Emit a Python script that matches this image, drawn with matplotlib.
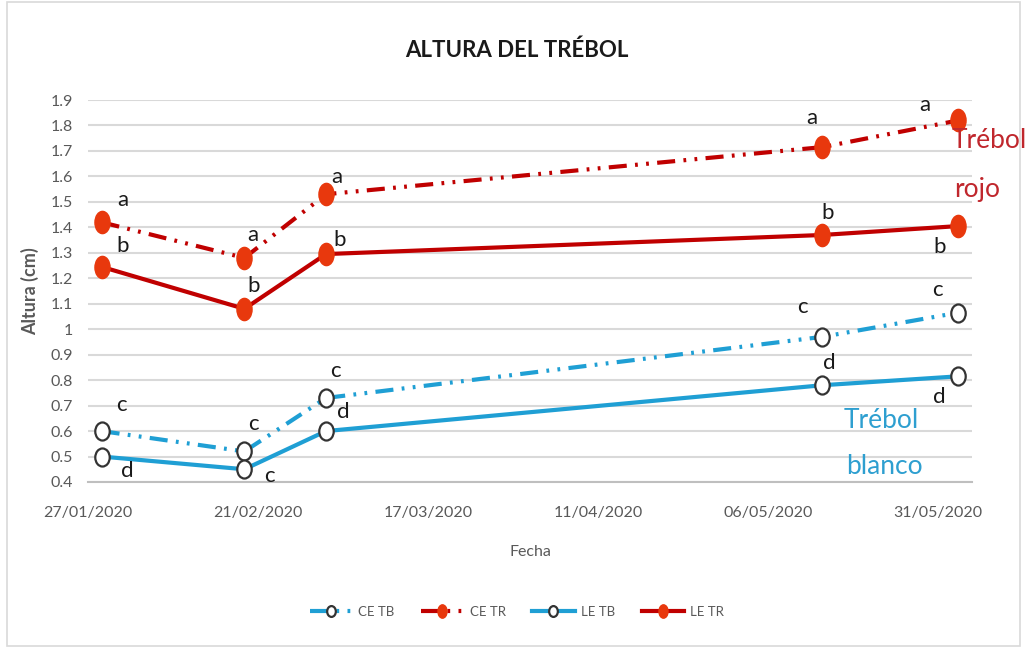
import datetime as dt
import numpy as np
import matplotlib
matplotlib.use("Agg")
import matplotlib.pyplot as plt
import matplotlib.dates as mdates
from matplotlib.path import Path
from matplotlib.ticker import FuncFormatter, MultipleLocator
from matplotlib.patches import Rectangle

plt.rcParams['font.family'] = ['Lato', 'DejaVu Sans']
plt.rcParams['lines.scale_dashes'] = False

# sampling dates
fechas = [dt.date(2020, 1, 29), dt.date(2020, 2, 19), dt.date(2020, 3, 2),
          dt.date(2020, 5, 14), dt.date(2020, 6, 3)]

# heights (cm)
ce_tb = [0.60, 0.52, 0.73, 0.97, 1.065]
ce_tr = [1.42, 1.28, 1.53, 1.715, 1.82]
le_tb = [0.50, 0.45, 0.60, 0.78, 0.815]
le_tr = [1.245, 1.08, 1.295, 1.37, 1.405]

# significance letters
let_ce_tb = ['c', 'c', 'c', 'c', 'c']
let_ce_tr = ['a', 'a', 'a', 'a', 'a']
let_le_tb = ['d', 'c', 'd', 'd', 'd']
let_le_tr = ['b', 'b', 'b', 'b', 'b']

# letter offsets in pixels (dx, dy up)
off_ce_tb = [(20, 26), (9, 27), (9, 27), (-20, 30), (-21, 23)]
off_ce_tr = [(21, 22), (8, 23), (11, 17), (-11, 29), (-34, 15)]
off_le_tb = [(26, -14), (25, -7), (17, 19), (7, 22), (-19, -21)]
off_le_tr = [(21, 21), (9, 23), (14, 14), (5, 22), (-19, -21)]

red_line = '#c00000'
red_mark = '#e8380d'
blue_line = '#1f9fd4'
gray_txt = '#595959'

circ = Path.unit_circle()
ell_red = Path(circ.vertices * [0.68, 1.0], circ.codes)
ell_blue = Path(circ.vertices * [0.8, 1.0], circ.codes)

dash_dot_dot = (0, (13, 6, 2, 6, 2, 6))

fig = plt.figure(figsize=(10.27, 6.48), dpi=100)
ax = fig.add_axes([88 / 1027, 1 - 482 / 648, (972 - 88) / 1027, (482 - 100) / 648])

x = mdates.date2num(fechas)

ax.plot(x, ce_tb, color=blue_line, lw=3, ls=dash_dot_dot, marker=ell_blue, ms=13,
        mfc='white', mec='#333333', mew=1.6, label='CE TB', zorder=3)
ax.plot(x, ce_tr, color=red_line, lw=3, ls=dash_dot_dot, marker=ell_red, ms=16,
        mfc=red_mark, mec=red_mark, label='CE TR', zorder=3)
ax.plot(x, le_tb, color=blue_line, lw=3, marker=ell_blue, ms=13,
        mfc='white', mec='#333333', mew=1.6, label='LE TB', zorder=3)
ax.plot(x, le_tr, color=red_line, lw=3, marker=ell_red, ms=16,
        mfc=red_mark, mec=red_mark, label='LE TR', zorder=3)

for ys, lets, offs in [(ce_tb, let_ce_tb, off_ce_tb), (ce_tr, let_ce_tr, off_ce_tr),
                       (le_tb, let_le_tb, off_le_tb), (le_tr, let_le_tr, off_le_tr)]:
    for xi, yi, l, (dx, dy) in zip(x, ys, lets, offs):
        ax.annotate(l, (xi, yi), xytext=(dx * 0.72, dy * 0.72), textcoords='offset points',
                    ha='center', va='center', fontsize=16, color='#1a1a1a', zorder=4)

x0 = mdates.date2num(dt.date(2020, 1, 27))
ax.set_xlim(x0, mdates.date2num(dt.date(2020, 6, 5)))
ax.set_ylim(0.4, 1.9)
ax.set_xticks([x0 + 25 * i for i in range(6)])
ax.xaxis.set_major_formatter(mdates.DateFormatter('%d/%m/%Y'))
ax.yaxis.set_major_locator(MultipleLocator(0.1))
ax.yaxis.set_major_formatter(FuncFormatter(lambda v, p: '%g' % round(v, 1)))

ax.grid(axis='y', color='#d9d9d9', lw=1.5)
ax.set_axisbelow(True)
for s in ['top', 'right', 'left']:
    ax.spines[s].set_visible(False)
ax.spines['bottom'].set_color('#bfbfbf')
ax.spines['bottom'].set_linewidth(1.5)
ax.tick_params(axis='both', length=0, labelsize=11.5, colors=gray_txt)
ax.tick_params(axis='y', pad=11)
ax.tick_params(axis='x', pad=17)

ax.set_ylabel('Altura (cm)', fontsize=13, color=gray_txt, fontweight='bold', labelpad=8)
ax.set_xlabel('Fecha', fontsize=11.5, color=gray_txt, labelpad=18)

fig.text(517 / 1027, 1 - 50 / 648, 'ALTURA DEL TRÉBOL', ha='center', va='center',
         fontsize=16, fontweight='bold', color='#1a1a1a')

fig.text(989 / 1027, 1 - 140 / 648, 'Trébol', ha='center', va='center', fontsize=19, color='#c0272d')
fig.text(977 / 1027, 1 - 190 / 648, 'rojo', ha='center', va='center', fontsize=19, color='#c0272d')
fig.text(881 / 1027, 1 - 420 / 648, 'Trébol', ha='center', va='center', fontsize=19, color='#2e9fd0')
fig.text(884 / 1027, 1 - 467 / 648, 'blanco', ha='center', va='center', fontsize=19, color='#2e9fd0')

leg = fig.legend(loc='center', bbox_to_anchor=(517 / 1027, 1 - 612 / 648), ncol=4,
                 frameon=False, fontsize=9.5, handlelength=3.2, columnspacing=2.0,
                 handletextpad=0.5, markerscale=0.6)
for t in leg.get_texts():
    t.set_color(gray_txt)

fig.patches.append(Rectangle((7 / 1027, 0.003), 1013 / 1027, 0.994, transform=fig.transFigure,
                             fill=False, ec='#d9d9d9', lw=1.2))

fig.savefig('out.png', dpi=100)
